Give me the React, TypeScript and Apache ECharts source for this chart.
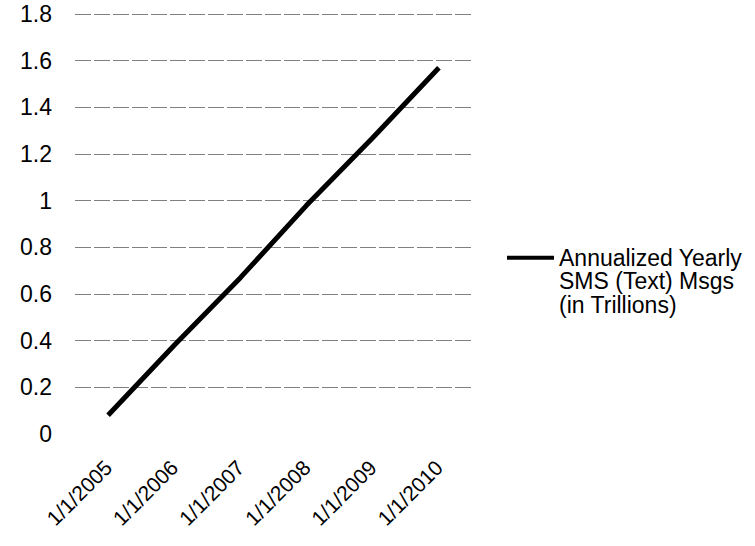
import React, { useEffect, useRef } from "react";
import * as echarts from "echarts";

const categories = ["1/1/2005", "1/1/2006", "1/1/2007", "1/1/2008", "1/1/2009", "1/1/2010"];
const smsValues = [0.08, 0.38, 0.67, 0.98, 1.27, 1.57];
const seriesName = "Annualized Yearly\nSMS (Text) Msgs\n(in Trillions)";

const FONT = "Liberation Sans, Arial, sans-serif";

export default function App() {
  const ref = useRef<HTMLDivElement>(null);
  useEffect(() => {
    const chart = echarts.init(ref.current!, null, { renderer: "svg" });
    chart.setOption({
      animation: false,
      backgroundColor: "#ffffff",
      textStyle: { fontFamily: FONT, color: "#000" },
      grid: { left: 75, right: 283, top: 14, bottom: 112, containLabel: false },
      legend: {
        show: true,
        left: 507,
        top: 199,
        padding: 0,
        orient: "vertical",
        itemWidth: 47,
        itemHeight: 4,
        icon: "rect",
        itemGap: 0,
        formatter: (name: string) => "\n\n" + name,
        textStyle: {
          fontSize: 23,
          lineHeight: 23.5,
          color: "#000",
          fontFamily: FONT,
        },
        data: [{ name: seriesName, itemStyle: { color: "#000" } }],
      },
      xAxis: {
        type: "category",
        data: categories,
        boundaryGap: true,
        axisLine: { show: true, lineStyle: { color: "#ffffff", width: 3 } },
        axisTick: { show: false },
        axisLabel: { rotate: 45, margin: 30, fontSize: 21, color: "#000", fontFamily: FONT },
      },
      yAxis: {
        type: "value",
        min: 0,
        max: 1.8,
        interval: 0.2,
        axisLine: { show: false },
        axisTick: { show: false },
        axisLabel: {
          margin: 23,
          fontSize: 23,
          color: "#000",
          fontFamily: FONT,
          formatter: (v: number) => String(Math.round(v * 10) / 10),
        },
        splitLine: { show: true, lineStyle: { color: "#808080", width: 1, type: [16, 3] } },
      },
      series: [
        {
          name: seriesName,
          type: "line",
          data: smsValues,
          showSymbol: false,
          symbol: "none",
          lineStyle: { color: "#000", width: 5 },
          itemStyle: { color: "#000" },
        },
      ],
    });
    return () => chart.dispose();
  }, []);
  return <div ref={ref} style={{ width: 755, height: 546, position: "absolute", left: 0, top: 0 }} />;
}
